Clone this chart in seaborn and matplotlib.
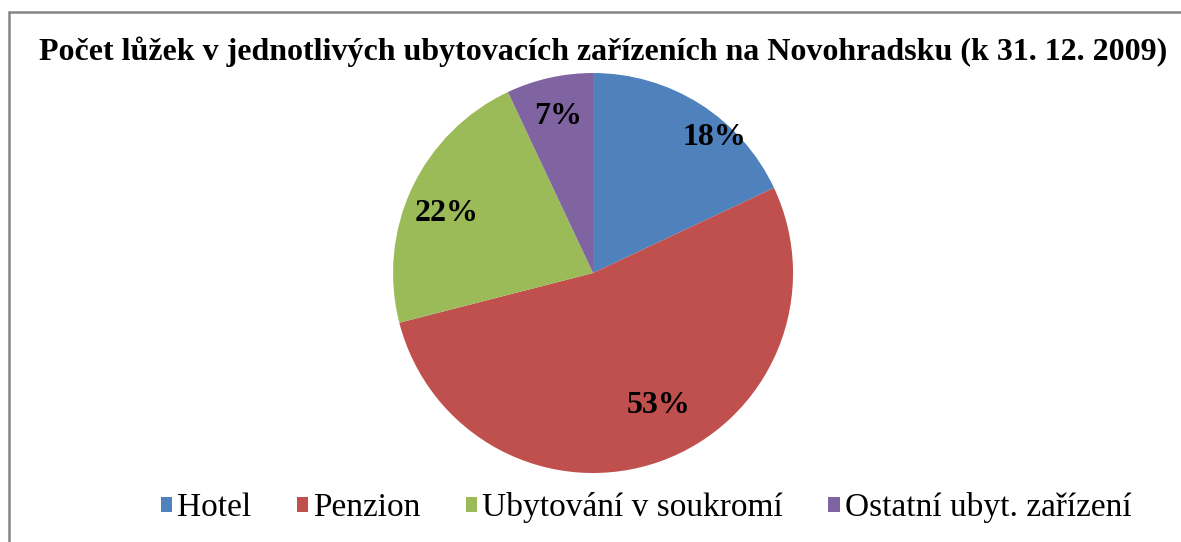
import matplotlib
matplotlib.use("Agg")
import matplotlib.pyplot as plt
import seaborn as sns
import numpy as np
from matplotlib.lines import Line2D
from matplotlib.patches import Patch

# Data
kategorie = ["Hotel", "Penzion", "Ubytování v soukromí", "Ostatní ubyt. zařízení"]
podily = [18, 53, 22, 7]
barvy = ["#4F81BD", "#C0504D", "#9BBB59", "#8064A2"]
titulek = "Počet lůžek v jednotlivých ubytovacích zařízeních na Novohradsku (k 31. 12. 2009)"

# placement of the percent labels (best-fit like in Excel)
popisek_r = [0.91, 0.74, 0.79, 0.80]
popisek_posun = [-9.6, 6.4, 3.2, 0.0]

sns.set_theme(style="white")
plt.rcParams["font.family"] = ["Liberation Serif", "DejaVu Serif"]
plt.rcParams["text.color"] = "black"

fig = plt.figure(figsize=(11.81, 5.42), dpi=100)
ax = fig.add_axes([0.3328, 0.1273, 0.3387, 0.738])

wedges, texts, autotexts = ax.pie(
    podily, colors=barvy, startangle=90, counterclock=False,
    autopct="%.0f%%", pctdistance=0.8,
    wedgeprops=dict(linewidth=0),
    textprops=dict(fontsize=23, fontweight="bold", color="black"))
for w, t, r, d in zip(wedges, autotexts, popisek_r, popisek_posun):
    uhel = np.deg2rad((w.theta1 + w.theta2) / 2 + d)
    t.set_position((r * np.cos(uhel), r * np.sin(uhel)))
ax.set_xlim(-1, 1)
ax.set_ylim(-1, 1)
ax.set_aspect("equal")

fig.text(0.511, 0.905, titulek, ha="center", va="center",
         fontsize=23, fontweight="bold", color="black")

handles = [Patch(facecolor=c, edgecolor="none") for c in barvy]
leg = fig.legend(handles, kategorie, loc="center", bbox_to_anchor=(0.547, 0.063),
                 ncol=4, frameon=False, fontsize=24, handlelength=0.35,
                 handleheight=0.35, handletextpad=0.15, columnspacing=1.35)
for t in leg.get_texts():
    t.set_color("black")

# chart frame (cropped at right and bottom)
x0 = 9 / 1181
y0 = 1 - 12 / 542
fig.add_artist(Line2D([x0, 1], [y0, y0], transform=fig.transFigure,
                      color="#868686", lw=1.8))
fig.add_artist(Line2D([x0, x0], [0, y0], transform=fig.transFigure,
                      color="#868686", lw=1.8))

fig.savefig("out.png", dpi=100)
